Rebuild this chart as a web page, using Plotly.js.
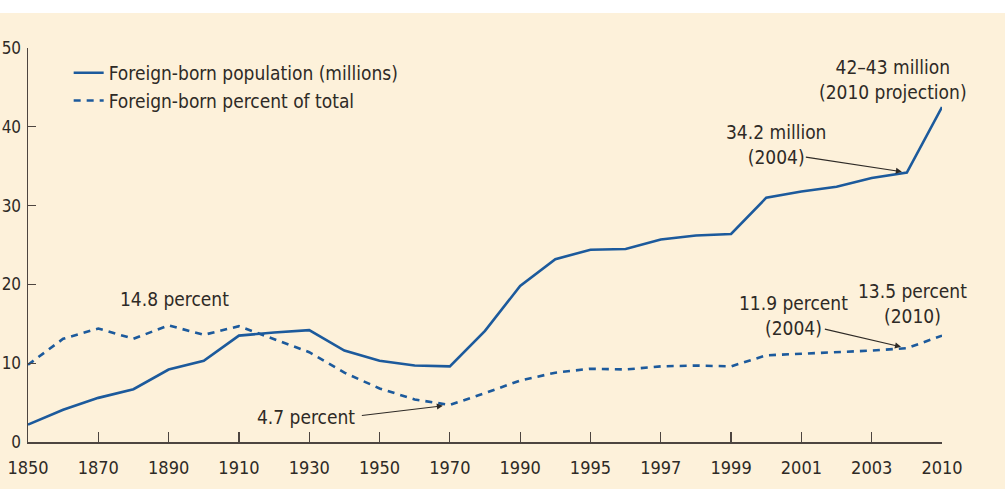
<!DOCTYPE html>
<html>
<head>
<meta charset="utf-8">
<script src="https://cdn.plot.ly/plotly-3.0.1.min.js"></script>
<style>
  html, body { margin: 0; padding: 0; background: #fdf1da; }
  #wrap { position: relative; width: 1005px; height: 489px; }
  #chart { width: 1005px; height: 489px; }
  #band { position: absolute; left: 0; top: 0; width: 1005px; height: 13px; background: #ffffff; }
</style>
</head>
<body>
<div id="wrap">
  <div id="chart"></div>
  <div id="band"></div>
</div>
<script>
// Census years, then annual survey years, then the 2010 projection
const years = ['1850','1860','1870','1880','1890','1900','1910','1920','1930','1940',
               '1950','1960','1970','1980','1990','1994','1995','1996','1997','1998',
               '1999','2000','2001','2002','2003','2004','2010'];

// Foreign-born population, millions
const populationMillions = [2.2, 4.1, 5.6, 6.7, 9.2, 10.3, 13.5, 13.9, 14.2, 11.6,
                            10.3, 9.7, 9.6, 14.1, 19.8, 23.2, 24.4, 24.5, 25.7, 26.2,
                            26.4, 31.0, 31.8, 32.4, 33.5, 34.2, 42.5];

// Foreign-born share of total population, percent
const percentOfTotal = [9.8, 13.1, 14.4, 13.1, 14.8, 13.6, 14.7, 13.1, 11.4, 8.8,
                        6.8, 5.4, 4.7, 6.2, 7.8, 8.8, 9.3, 9.2, 9.6, 9.7,
                        9.6, 11.0, 11.2, 11.4, 11.6, 11.9, 13.5];

const tickYears = ['1850','1870','1890','1910','1930','1950','1970','1990',
                   '1995','1997','1999','2001','2003','2010'];
const yTicks = [0, 10, 20, 30, 40, 50];

const FONT = '"DejaVu Sans Condensed", "DejaVu Sans", sans-serif';
const INK = '#2e2a26';
const BLUE = '#1c5a9c';
const AXIS = '#4d4540';
const BG = '#fdf1da';

const traces = [
  {
    x: years, y: populationMillions, type: 'scatter', mode: 'lines',
    name: 'Foreign-born population (millions)',
    line: { color: BLUE, width: 2.6 }
  },
  {
    x: years, y: percentOfTotal, type: 'scatter', mode: 'lines',
    name: 'Foreign-born percent of total',
    line: { color: BLUE, width: 2.6, dash: '7px,6px' }
  }
];

// position of a year along the category axis
const at = yr => years.indexOf(yr);

// text labels placed next to the point they describe
function label(text, yr, yVal, dx, dy) {
  return { x: at(yr), y: yVal, xref: 'x', yref: 'y', text: text, showarrow: false,
           xanchor: 'center', yanchor: 'middle', xshift: dx, yshift: dy,
           font: { family: FONT, size: 19, color: INK } };
}
// pointer arrows from a label to its point
function pointer(yr, yVal, ax, ay, standoff) {
  return { x: at(yr), y: yVal, xref: 'x', yref: 'y', text: ' ', showarrow: true,
           ax: ax, ay: ay, arrowhead: 2, arrowsize: 1.1, arrowwidth: 1.1,
           arrowcolor: INK, standoff: standoff };
}

const annotations = [
  label('42–43 million<br>(2010 projection)', '2010', 42.5, -49, 28),
  label('34.2 million<br>(2004)', '2004', 34.2, -131, 28),
  label('11.9 percent<br>(2004)', '2004', 11.9, -113, 33),
  label('13.5 percent<br>(2010)', '2010', 13.5, -30, 32),
  label('14.8 percent', '1890', 14.8, 6, 26),
  label('4.7 percent', '1970', 4.7, -144, -12),
  pointer('2004', 34.2, -105, -16, 5),
  pointer('2004', 11.9, -86, -20, 6),
  pointer('1970', 4.7, -92, 11, 7)
];

const layout = {
  width: 1005, height: 489,
  paper_bgcolor: BG, plot_bgcolor: BG,
  margin: { l: 28, r: 63, t: 48, b: 47 },
  font: { family: FONT, size: 19, color: INK },
  showlegend: true,
  legend: {
    x: 0.0445, y: 0.985, xanchor: 'left', yanchor: 'top',
    bgcolor: 'rgba(0,0,0,0)', font: { family: FONT, size: 19, color: INK },
    tracegroupgap: 0
  },
  xaxis: {
    type: 'category', categoryorder: 'array', categoryarray: years,
    range: [0, years.length - 1],
    tickmode: 'array', tickvals: tickYears, ticktext: tickYears,
    ticks: 'inside', ticklen: 10, tickwidth: 1.2, tickcolor: AXIS,
    showline: true, linecolor: AXIS, linewidth: 1.5,
    showgrid: false, zeroline: false, ticklabelstandoff: 9,
    tickfont: { family: FONT, size: 18, color: INK }
  },
  yaxis: {
    range: [0, 50], tickmode: 'array', tickvals: yTicks,
    ticks: 'inside', ticklen: 8, tickwidth: 1.2, tickcolor: AXIS,
    showline: true, linecolor: AXIS, linewidth: 1.5,
    showgrid: false, zeroline: false, ticklabelstandoff: 2,
    tickfont: { family: FONT, size: 17, color: INK }
  },
  annotations: annotations
};

Plotly.newPlot('chart', traces, layout, { staticPlot: true, displayModeBar: false });
</script>
</body>
</html>
